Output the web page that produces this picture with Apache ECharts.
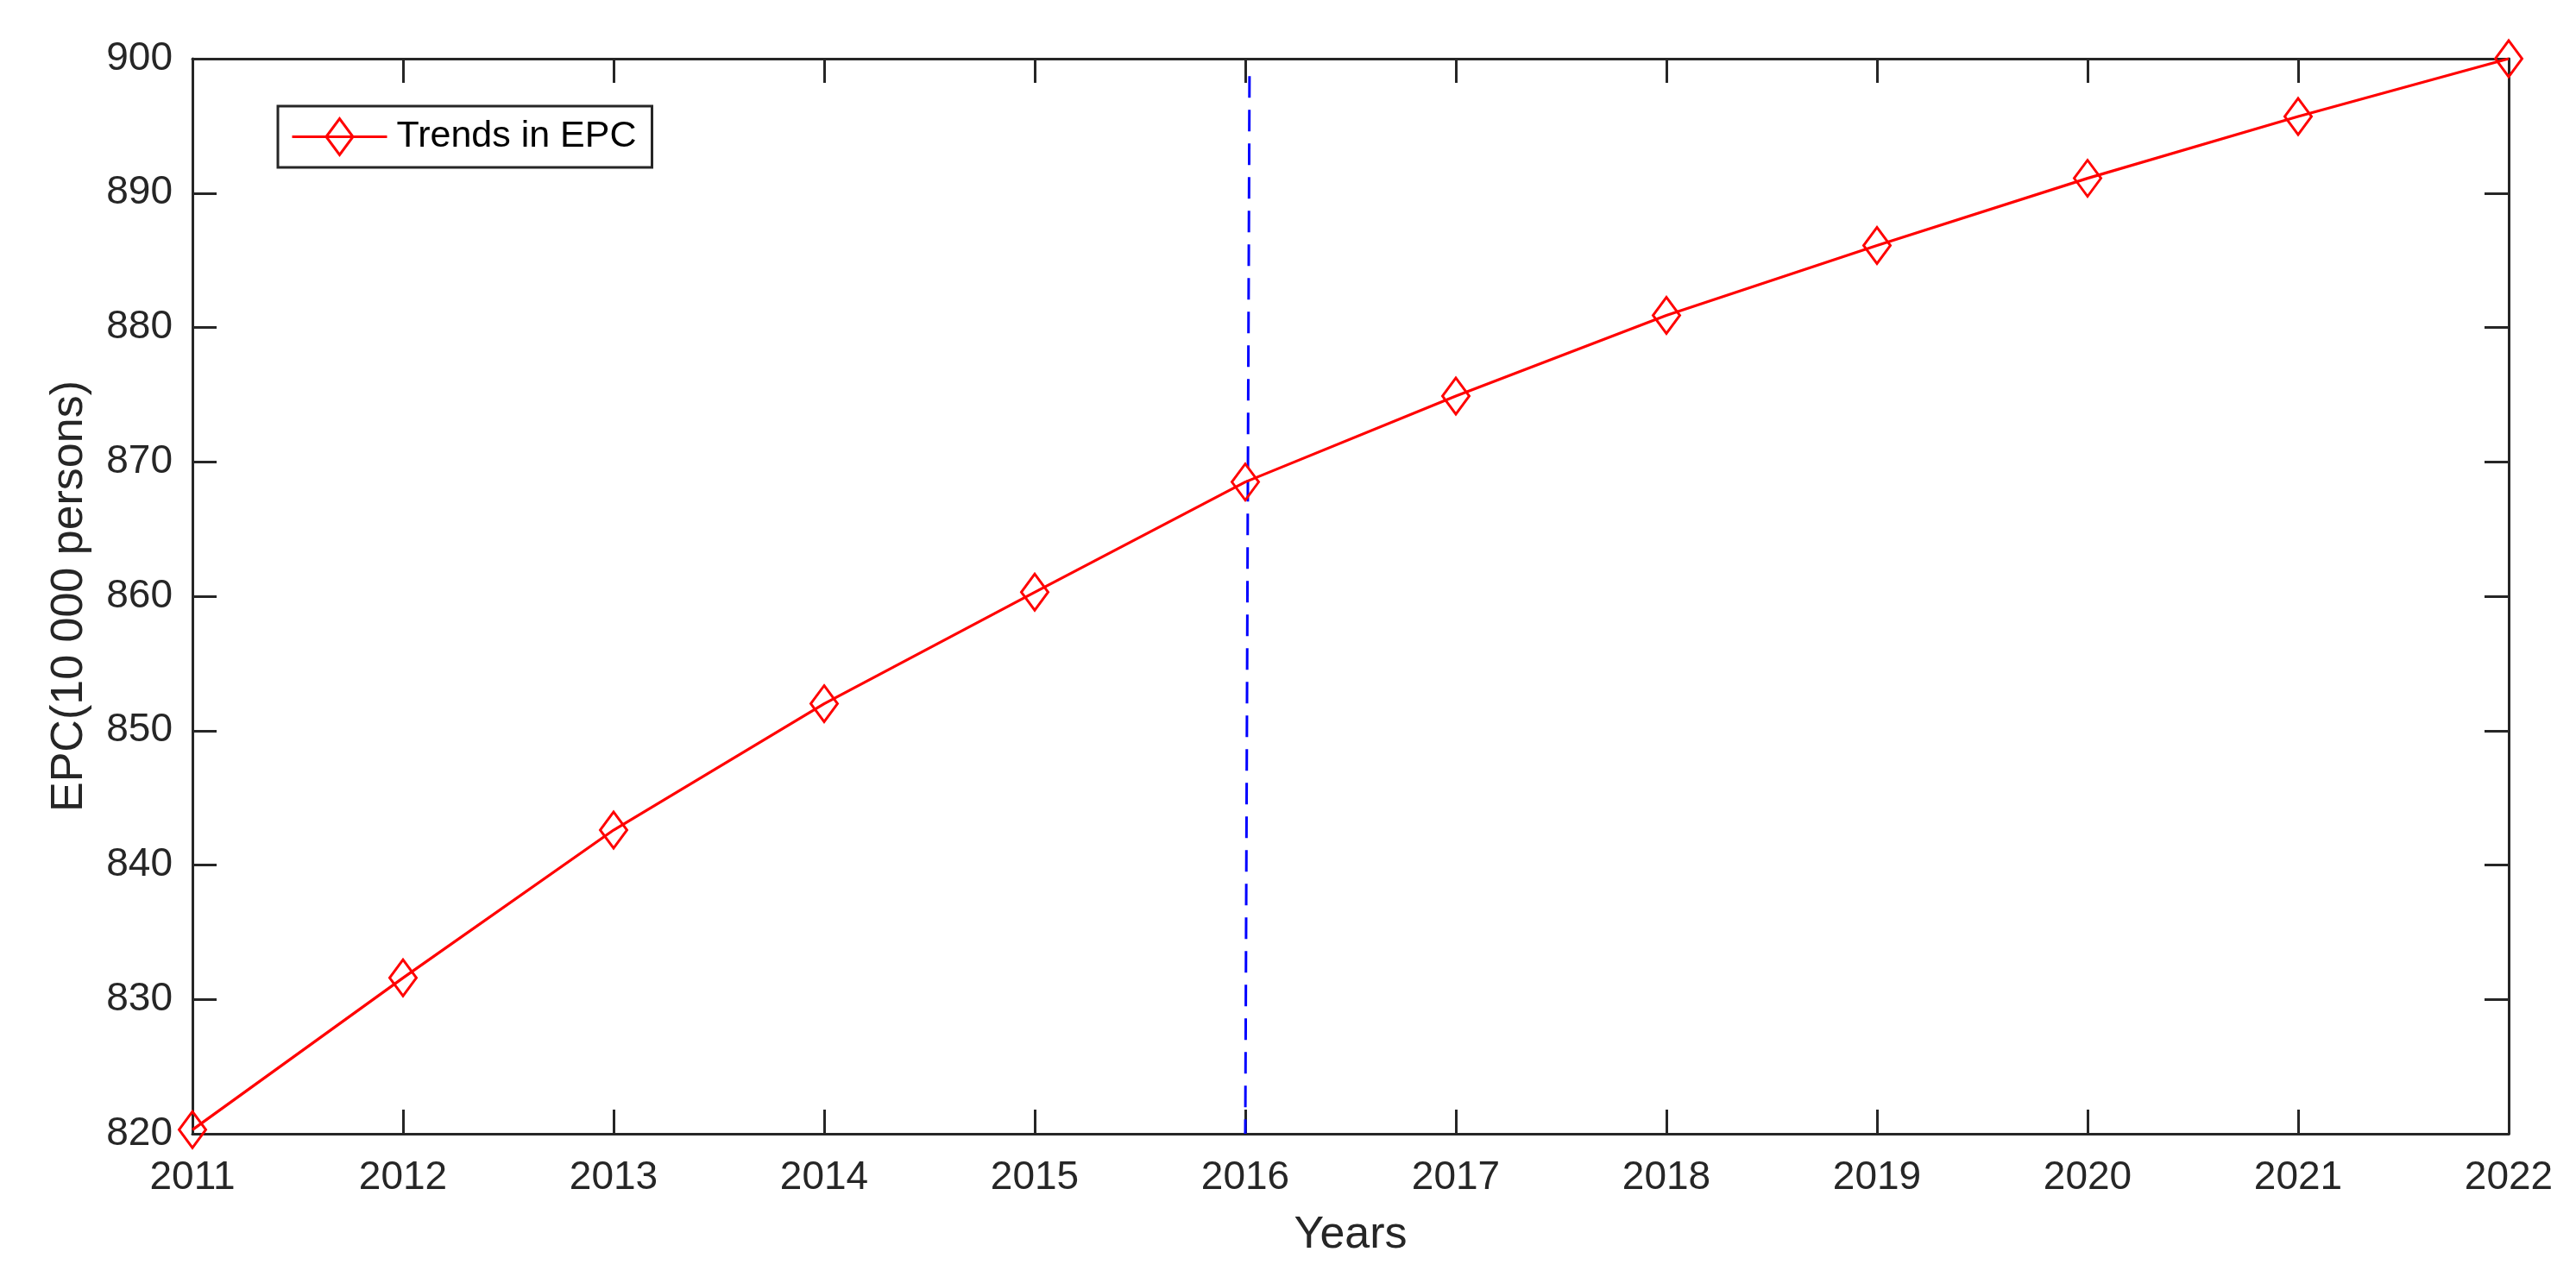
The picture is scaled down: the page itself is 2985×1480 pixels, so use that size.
<!DOCTYPE html>
<html>
<head>
<meta charset="utf-8">
<script src="https://cdn.jsdelivr.net/npm/echarts@6/dist/echarts.min.js"></script>
<style>
html,body{margin:0;padding:0;background:#fff;}
#chart{width:2985px;height:1480px;}
</style>
</head>
<body>
<div id="chart"></div>
<script>
const years = [2011, 2012, 2013, 2014, 2015, 2016, 2017, 2018, 2019, 2020, 2021, 2022];
const epc = [820.3, 831.6, 842.6, 852.0, 860.3, 868.5, 874.9, 880.9, 886.1, 891.1, 895.7, 900.0];
const seriesName = 'Trends in EPC';
const splitLineX = [2016.02, 2016.0];
const splitLineY = [898.7, 820];
const xTicks = { min: 2011, max: 2022, step: 1 };
const yTicks = { min: 820, max: 900, step: 10 };

const font = '"Liberation Sans", Arial, Helvetica, sans-serif';
const axisColor = '#262626';

const chart = echarts.init(document.getElementById('chart'), null, { renderer: 'canvas' });

const commonAxisLine = { show: true, lineStyle: { color: axisColor, width: 3 } };
const commonTick = { show: true, inside: true, length: 28, lineStyle: { color: axisColor, width: 3 } };

const option = {
  backgroundColor: '#ffffff',
  animation: false,
  grid: { left: 223, right: 78, top: 68, bottom: 166, containLabel: false },
  legend: {
    left: 322, top: 123,
    orient: 'horizontal',
    data: [{
      name: seriesName,
      icon: 'path://M0,21L110,21M39.5,21L55,0L70.5,21L55,42Z',
      itemStyle: { color: 'rgba(255,255,255,0)', borderColor: '#ff0000', borderWidth: 3 }
    }],
    itemWidth: 110, itemHeight: 42,
    padding: [13, 18, 13, 15],
    borderColor: axisColor, borderWidth: 3,
    backgroundColor: '#ffffff',
    textStyle: { fontFamily: font, fontSize: 43, color: '#000000', padding: [0, 0, 0, 6] }
  },
  xAxis: [
    {
      type: 'value', min: xTicks.min, max: xTicks.max, interval: xTicks.step,
      position: 'bottom',
      name: 'Years', nameLocation: 'middle', nameGap: 92,
      nameTextStyle: { fontFamily: font, fontSize: 52, color: axisColor },
      axisLine: commonAxisLine, axisTick: commonTick,
      axisLabel: { fontFamily: font, fontSize: 46, color: axisColor, margin: 28, formatter: v => String(v) },
      splitLine: { show: false }
    },
    {
      type: 'value', min: xTicks.min, max: xTicks.max, interval: xTicks.step,
      position: 'top',
      axisLine: commonAxisLine, axisTick: commonTick,
      axisLabel: { show: false }, splitLine: { show: false }
    }
  ],
  yAxis: [
    {
      type: 'value', min: yTicks.min, max: yTicks.max, interval: yTicks.step,
      position: 'left',
      name: 'EPC(10 000 persons)', nameLocation: 'middle', nameGap: 116,
      nameTextStyle: { fontFamily: font, fontSize: 52, color: axisColor },
      axisLine: commonAxisLine, axisTick: commonTick,
      axisLabel: { fontFamily: font, fontSize: 46, color: axisColor, margin: 23 },
      splitLine: { show: false }
    },
    {
      type: 'value', min: yTicks.min, max: yTicks.max, interval: yTicks.step,
      position: 'right',
      axisLine: commonAxisLine, axisTick: commonTick,
      axisLabel: { show: false }, splitLine: { show: false }
    }
  ],
  series: [
    {
      name: seriesName,
      type: 'line',
      data: years.map((y, i) => [y, epc[i]]),
      xAxisIndex: 0, yAxisIndex: 0,
      clip: false,
      lineStyle: { color: '#ff0000', width: 3.2 },
      symbol: 'diamond',
      symbolSize: [31, 42],
      itemStyle: { color: 'rgba(255,255,255,0)', borderColor: '#ff0000', borderWidth: 3 },
      z: 3
    },
    {
      name: 'split',
      type: 'line',
      data: splitLineX.map((x, i) => [x, splitLineY[i]]),
      xAxisIndex: 0, yAxisIndex: 0,
      symbol: 'none',
      lineStyle: { color: '#0000ff', width: 3, type: [25, 14] },
      z: 2
    }
  ]
};
chart.setOption(option);
</script>
</body>
</html>
